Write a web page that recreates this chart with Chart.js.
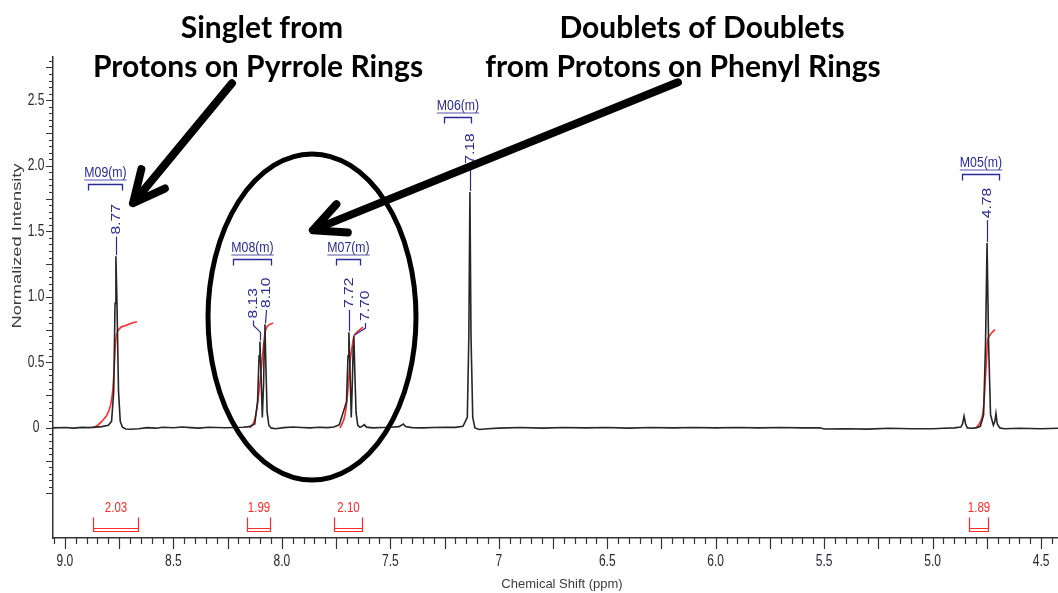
<!DOCTYPE html>
<html>
<head>
<meta charset="utf-8">
<title>1H NMR spectrum</title>
<script src="https://cdn.jsdelivr.net/npm/chart.js@4.4.0/dist/chart.umd.min.js"></script>
<style>
    html, body { margin: 0; padding: 0; background: #fff; }
    #wrap { width: 1058px; height: 593px; position: relative; }
</style>
</head>
<body>
<div id="wrap"><canvas id="nmrChart"></canvas></div>
<script>
// spectrum trace (chemical shift in ppm / normalized intensity)
const shiftPpm = [
    9.055, 9.00, 8.96, 8.92, 8.89, 8.86, 8.83, 8.80, 8.785, 8.775, 8.769, 8.765, 8.760, 8.753, 8.745, 8.735,
    8.72, 8.70, 8.66, 8.62, 8.58, 8.55, 8.50, 8.46, 8.42, 8.38, 8.34, 8.30, 8.26, 8.22, 8.18, 8.15,
    8.125, 8.112, 8.105, 8.101, 8.096, 8.090, 8.084, 8.081, 8.078, 8.074, 8.068, 8.06, 8.05, 8.03,
    7.99, 7.95, 7.91, 7.87, 7.83, 7.79, 7.76, 7.735, 7.702, 7.695, 7.691, 7.686, 7.680, 7.675, 7.671,
    7.668, 7.664, 7.658, 7.65, 7.64, 7.63, 7.62, 7.61, 7.58, 7.54, 7.50, 7.46, 7.44, 7.43, 7.40, 7.35,
    7.30, 7.25, 7.20, 7.165, 7.145, 7.138, 7.133, 7.128, 7.120, 7.110, 7.09, 7.05, 7.00, 6.90, 6.80,
    6.70, 6.60, 6.50, 6.40, 6.30, 6.20, 6.10, 6.00, 5.90, 5.80, 5.70, 5.60, 5.52, 5.50, 5.40, 5.30,
    5.20, 5.10, 5.00, 4.95, 4.90, 4.87, 4.862, 4.855, 4.848, 4.84, 4.82, 4.80, 4.78, 4.765, 4.756,
    4.749, 4.742, 4.733, 4.72, 4.713, 4.708, 4.702, 4.69, 4.67, 4.60, 4.50, 4.422
];
const intensity = [
    0.000, 0.003, -0.002, 0.004, 0.002, 0.006, 0.010, 0.020, 0.05, 0.28, 0.95, 1.31, 0.95, 0.28, 0.05, 0.006,
    -0.008, -0.010, -0.006, 0.002, -0.002, 0.005, 0.001, 0.007, 0.002, -0.002, 0.005, 0.003, 0.001, 0.003, 0.005, 0.010,
    0.03, 0.20, 0.55, 0.66, 0.40, 0.08, 0.35, 0.65, 0.79, 0.50, 0.12, 0.02, 0.000, -0.006,
    0.002, 0.007, 0.003, 0.000, 0.005, 0.002, 0.007, 0.025, 0.20, 0.55, 0.73, 0.45, 0.08, 0.35, 0.62,
    0.70, 0.45, 0.12, 0.02, 0.004, 0.012, 0.025, 0.006, 0.000, 0.003, 0.005, 0.010, 0.030, 0.010, 0.002, 0.000,
    0.003, 0.005, 0.004, 0.012, 0.08, 0.70, 1.80, 0.70, 0.08, 0.000, -0.012, -0.006, -0.002, 0.003, -0.002,
    0.003, 0.000, 0.003, -0.002, 0.003, 0.000, 0.003, 0.000, 0.003, 0.000, 0.003, 0.000, 0.001, -0.008, -0.006, -0.009,
    -0.003, -0.006, -0.006, -0.003, 0.000, 0.006, 0.03, 0.09, 0.03, 0.000, -0.003, 0.000, 0.012, 0.10, 0.65,
    1.41, 0.65, 0.10, 0.020, 0.05, 0.11, 0.03, 0.000, -0.006, -0.003, -0.006, -0.003
];

// integral curves (red)
const int09Ppm = [8.871, 8.850, 8.830, 8.806, 8.790, 8.780, 8.772, 8.765, 8.756, 8.740, 8.723, 8.700, 8.668];
const int09Val = [0.00, 0.02, 0.05, 0.10, 0.17, 0.28, 0.48, 0.68, 0.74, 0.77, 0.78, 0.795, 0.81];
const int08Ppm = [8.147, 8.130, 8.118, 8.110, 8.100, 8.092, 8.085, 8.078, 8.069, 8.055, 8.041];
const int08Val = [0.00, 0.04, 0.12, 0.21, 0.36, 0.50, 0.62, 0.72, 0.77, 0.79, 0.80];
const int07Ppm = [7.732, 7.715, 7.705, 7.700, 7.692, 7.686, 7.676, 7.668, 7.660, 7.654, 7.640, 7.626];
const int07Val = [0.00, 0.06, 0.14, 0.21, 0.36, 0.50, 0.62, 0.70, 0.72, 0.73, 0.75, 0.77];
const int05Ppm = [4.800, 4.785, 4.772, 4.763, 4.758, 4.753, 4.749, 4.745, 4.735, 4.725, 4.712];
const int05Val = [0.00, 0.03, 0.08, 0.20, 0.34, 0.48, 0.60, 0.68, 0.71, 0.73, 0.75];

// integral brackets under the trace
const integralLabels = ['2.03', '1.99', '2.10', '1.89'];
const integralFrom = [8.871, 8.161, 7.760, 4.832];
const integralTo = [8.663, 8.055, 7.631, 4.745];

// multiplet brackets
const multipletNames = ['M09(m)', 'M08(m)', 'M07(m)', 'M06(m)', 'M05(m)'];
const multipletFrom = [8.894, 8.225, 7.751, 7.253, 4.864];
const multipletTo = [8.737, 8.050, 7.640, 7.128, 4.694];
const multipletLevel = [1.86, 1.29, 1.29, 2.37, 1.94];

// peak picking labels
const peakLabels = ['8.77', '8.13', '8.10', '7.72', '7.70', '7.18', '4.78'];
const peakShift = [8.765, 8.101, 8.078, 7.691, 7.668, 7.133, 4.749];
const peakTop = [1.31, 0.66, 0.79, 0.73, 0.70, 1.80, 1.41];
const peakLabelShift = [8.765, 8.133, 8.075, 7.691, 7.617, 7.133, 4.749];
const peakLabelBase = [1.46, 0.82, 0.90, 0.90, 0.80, 2.00, 1.585];

// axis ticks
const xTickValues = [9.0, 8.5, 8.0, 7.5, 7.0, 6.5, 6.0, 5.5, 5.0, 4.5];
const xTickLabels = ['9.0', '8.5', '8.0', '7.5', '7', '6.5', '6.0', '5.5', '5.0', '4.5'];
const yTickValues = [0, 0.5, 1.0, 1.5, 2.0, 2.5];
const yTickLabels = ['0', '0.5', '1.0', '1.5', '2.0', '2.5'];

// callouts (anchored in data units)
const calloutTail = [[8.230, 2.63], [6.174, 2.637]];
const calloutTip = [[8.686, 1.715], [7.857, 1.509]];
const circleCentre = [7.861, 0.846];

const BLUE = '#2a2a96';
const RED = '#ff2a2a';
const SANS = '"Liberation Sans", Arial, sans-serif';

const toPoints = (xs, ys) => xs.map((x, i) => ({ x: x, y: ys[i] }));

// text squeezed horizontally to mimic the narrow face of the original
function squeezedText(ctx, text, x, y, font, sx, color) {
    ctx.save();
    ctx.translate(x, y);
    ctx.scale(sx, 1);
    ctx.font = font;
    ctx.fillStyle = color;
    ctx.textAlign = 'center';
    ctx.textBaseline = 'middle';
    ctx.fillText(text, 0, 0);
    const w = ctx.measureText(text).width * sx;
    ctx.restore();
    return w;
}

function drawArrow(ctx, x0, y0, x1, y1, headLen, spread) {
    const ang = Math.atan2(y1 - y0, x1 - x0);
    ctx.beginPath();
    ctx.moveTo(x0, y0);
    ctx.lineTo(x1, y1);
    ctx.moveTo(x1 - headLen * Math.cos(ang - spread), y1 - headLen * Math.sin(ang - spread));
    ctx.lineTo(x1, y1);
    ctx.lineTo(x1 - headLen * Math.cos(ang + spread), y1 - headLen * Math.sin(ang + spread));
    ctx.stroke();
}

const nmrOverlay = {
    id: 'nmrOverlay',
    afterDraw(chart) {
        const ctx = chart.ctx;
        const xs = chart.scales.x;
        const ys = chart.scales.y;
        const px = v => xs.getPixelForValue(v);
        const py = v => ys.getPixelForValue(v);
        const area = chart.chartArea;

        ctx.save();

        // tick marks (minor every 0.05)
        ctx.strokeStyle = '#333';
        ctx.lineWidth = 1.2;
        ctx.beginPath();
        for (let k = 89; k <= 181; k++) {
            const x = Math.round(px(k * 0.05)) + 0.5;
            const len = (k % 5 === 0) ? 11 : 6;
            ctx.moveTo(x, area.bottom);
            ctx.lineTo(x, area.bottom + len);
        }
        for (let k = -10; k <= 56; k++) {
            const y = Math.round(py(k * 0.05)) + 0.5;
            const len = (k % 5 === 0) ? 7 : 4;
            ctx.moveTo(area.left, y);
            ctx.lineTo(area.left - len, y);
        }
        ctx.stroke();

        // tick labels
        xTickValues.forEach((v, i) => {
            squeezedText(ctx, xTickLabels[i], px(v), area.bottom + 24, '16px ' + SANS, 0.75, '#262636');
        });
        yTickValues.forEach((v, i) => {
            squeezedText(ctx, yTickLabels[i], 36, py(v), '16px ' + SANS, 0.75, '#262636');
        });

        // axis titles
        ctx.fillStyle = '#3c3c3c';
        ctx.font = '13px ' + SANS;
        ctx.textAlign = 'center';
        ctx.textBaseline = 'middle';
        ctx.fillText('Chemical Shift (ppm)', 562, 584);
        ctx.save();
        ctx.translate(17, 246);
        ctx.rotate(-Math.PI / 2);
        const tw = ctx.measureText('Normalized Intensity').width;
        ctx.scale(165 / tw, 1);
        ctx.fillText('Normalized Intensity', 0, 0);
        ctx.restore();

        // multiplet brackets
        multipletNames.forEach((name, i) => {
            const x1 = Math.round(px(multipletFrom[i])) + 0.5;
            const x2 = Math.round(px(multipletTo[i])) + 0.5;
            const y = Math.round(py(multipletLevel[i])) + 0.5;
            ctx.strokeStyle = BLUE;
            ctx.lineWidth = 1.3;
            ctx.beginPath();
            ctx.moveTo(x1, y + 6);
            ctx.lineTo(x1, y);
            ctx.lineTo(x2, y);
            ctx.lineTo(x2, y + 6);
            ctx.stroke();
            const cx = (x1 + x2) / 2;
            const w = squeezedText(ctx, name, cx, y - 12, '15px ' + SANS, 0.82, BLUE);
            ctx.lineWidth = 0.8;
            ctx.beginPath();
            ctx.moveTo(cx - w / 2, y - 4.5);
            ctx.lineTo(cx + w / 2, y - 4.5);
            ctx.stroke();
        });

        // peak labels with connectors
        peakLabels.forEach((txt, i) => {
            const xl = Math.round(px(peakLabelShift[i])) + 0.5;
            const xp = Math.round(px(peakShift[i])) + 0.5;
            const yb = py(peakLabelBase[i]);
            const yp = py(peakTop[i]);
            ctx.strokeStyle = BLUE;
            ctx.lineWidth = 1.2;
            ctx.beginPath();
            ctx.moveTo(xl, yb);
            if (Math.abs(xl - xp) > 2) {
                ctx.lineTo(xl, yb + 5);
                ctx.lineTo(xp, yb + 12);
            }
            ctx.lineTo(xp, yp - 1);
            ctx.stroke();
            ctx.save();
            ctx.translate(xl, yb - 2);
            ctx.rotate(-Math.PI / 2);
            ctx.scale(1.3, 1);
            ctx.font = '12px ' + SANS;
            ctx.fillStyle = BLUE;
            ctx.textAlign = 'left';
            ctx.textBaseline = 'middle';
            ctx.fillText(txt, 0, 0);
            ctx.restore();
        });

        // integral brackets
        integralLabels.forEach((txt, i) => {
            const x1 = Math.round(px(integralFrom[i])) + 0.5;
            const x2 = Math.round(px(integralTo[i])) + 0.5;
            const yTop = Math.round(py(-0.68)) + 0.5;
            const yBot = Math.round(py(-0.79)) + 0.5;
            ctx.strokeStyle = RED;
            ctx.lineWidth = 1.2;
            ctx.beginPath();
            ctx.moveTo(x1, yTop);
            ctx.lineTo(x1, yBot);
            ctx.lineTo(x2, yBot);
            ctx.lineTo(x2, yTop);
            ctx.moveTo(x1, yBot - 3);
            ctx.lineTo(x2, yBot - 3);
            ctx.stroke();
            squeezedText(ctx, txt, (x1 + x2) / 2, py(-0.61), '14px ' + SANS, 0.82, RED);
        });

        // callout circle and arrows
        ctx.strokeStyle = '#000';
        ctx.lineWidth = 5;
        ctx.beginPath();
        ctx.ellipse(px(circleCentre[0]), py(circleCentre[1]), 104, 163, 0, 0, Math.PI * 2);
        ctx.stroke();

        ctx.lineWidth = 8;
        ctx.lineCap = 'round';
        ctx.lineJoin = 'round';
        calloutTail.forEach((t, i) => {
            drawArrow(ctx, px(t[0]), py(t[1]), px(calloutTip[i][0]), py(calloutTip[i][1]), 35, 0.45);
        });

        // headline text
        ctx.fillStyle = '#000';
        ctx.font = 'bold 30px Lato, "Open Sans", sans-serif';
        ctx.textAlign = 'center';
        ctx.textBaseline = 'alphabetic';
        ctx.fillText('Singlet from', 262, 38);
        ctx.fillText('Protons on Pyrrole Rings', 258, 77);
        ctx.fillText('Doublets of Doublets', 702, 38);
        ctx.fillText('from Protons on Phenyl Rings', 683, 77);

        ctx.restore();
    }
};

const integralStyle = {
    borderColor: RED,
    borderWidth: 1.6,
    pointRadius: 0,
    tension: 0.3,
    fill: false
};

const nmrChart = new Chart(document.getElementById('nmrChart'), {
    type: 'line',
    data: {
        datasets: [
            {
                label: 'Spectrum',
                data: toPoints(shiftPpm, intensity),
                borderColor: '#262626',
                borderWidth: 1.6,
                pointRadius: 0,
                tension: 0,
                fill: false
            },
            Object.assign({ label: 'M09 integral', data: toPoints(int09Ppm, int09Val) }, integralStyle),
            Object.assign({ label: 'M08 integral', data: toPoints(int08Ppm, int08Val) }, integralStyle),
            Object.assign({ label: 'M07 integral', data: toPoints(int07Ppm, int07Val) }, integralStyle),
            Object.assign({ label: 'M05 integral', data: toPoints(int05Ppm, int05Val) }, integralStyle)
        ]
    },
    options: {
        responsive: true,
        maintainAspectRatio: false,
        animation: false,
        layout: { padding: { top: 57, right: 0, left: 0, bottom: 0 } },
        plugins: {
            legend: { display: false },
            tooltip: { enabled: false }
        },
        scales: {
            x: {
                type: 'linear',
                reverse: true,
                min: 4.422,
                max: 9.055,
                afterFit: scale => { scale.height = 55; },
                afterBuildTicks: scale => { scale.ticks = xTickValues.map(v => ({ value: v })); },
                ticks: { display: false },
                grid: { display: false },
                border: { display: true, color: '#333', width: 1.5 }
            },
            y: {
                type: 'linear',
                min: -0.84,
                max: 2.83,
                afterFit: scale => { scale.width = 53; },
                afterBuildTicks: scale => { scale.ticks = yTickValues.map(v => ({ value: v })); },
                ticks: { display: false },
                grid: { display: false },
                border: { display: true, color: '#333', width: 1.5 }
            }
        }
    },
    plugins: [nmrOverlay]
});
</script>
</body>
</html>
